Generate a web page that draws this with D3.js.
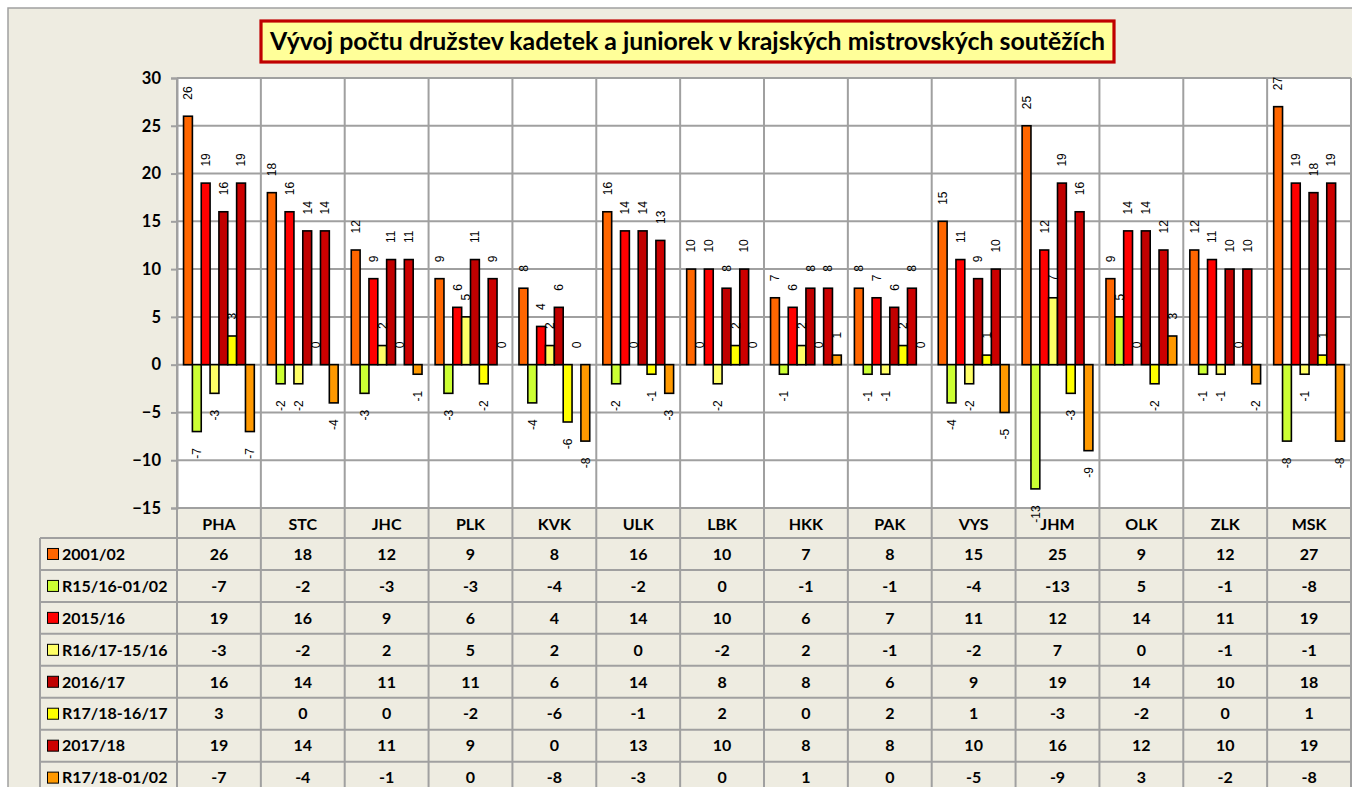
<!DOCTYPE html>
<html><head><meta charset="utf-8">
<script src="https://cdn.jsdelivr.net/npm/d3@7"></script>
<style>
html,body{margin:0;padding:0;background:#fff;}
svg{display:block;}
</style></head>
<body>
<svg id="c" width="1352" height="787"></svg>
<script>
const titleText = "Vývoj počtu družstev kadetek a juniorek v krajských mistrovských soutěžích";
const categories = ["PHA","STC","JHC","PLK","KVK","ULK","LBK","HKK","PAK","VYS","JHM","OLK","ZLK","MSK"];
const seriesNames = ["2001/02","R15/16-01/02","2015/16","R16/17-15/16","2016/17","R17/18-16/17","2017/18","R17/18-01/02"];
const seriesColors = ["#FF6600","#CCFF33","#FF0000","#FFFF66","#C00000","#FFFF00","#CC0000","#FF9900"];
const v2001 = [26,18,12,9,8,16,10,7,8,15,25,9,12,27];
const vR1516 = [-7,-2,-3,-3,-4,-2,0,-1,-1,-4,-13,5,-1,-8];
const v2015 = [19,16,9,6,4,14,10,6,7,11,12,14,11,19];
const vR1617 = [-3,-2,2,5,2,0,-2,2,-1,-2,7,0,-1,-1];
const v2016 = [16,14,11,11,6,14,8,8,6,9,19,14,10,18];
const vR1718 = [3,0,0,-2,-6,-1,2,0,2,1,-3,-2,0,1];
const v2017 = [19,14,11,9,0,13,10,8,8,10,16,12,10,19];
const vR1718b = [-7,-4,-1,0,-8,-3,0,1,0,-5,-9,3,-2,-8];
const yTicks = [-15,-10,-5,0,5,10,15,20,25,30];

const seriesValues = [v2001,vR1516,v2015,vR1617,v2016,vR1718,v2017,vR1718b];
const series = seriesNames.map((n,i)=>({name:n,color:seriesColors[i],values:seriesValues[i]}));

const W=1352,H=787;
const svg=d3.select("#c");
const BG="#EEECE1", GRID="#A0A0A0";
const plotL=177, plotR=1351, plotT=78, plotB=508;
const rowT=538, rowH=31.95, tableL=40;

svg.append("rect").attr("width",W).attr("height",H).attr("fill","#fff");
svg.append("rect").attr("x",8).attr("y",8).attr("width",W+20).attr("height",H+20)
  .attr("fill",BG).attr("stroke",GRID).attr("stroke-width",1.5);

// title
const tb=svg.append("g");
tb.append("rect").attr("x",261).attr("y",21).attr("width",853).attr("height",41)
  .attr("fill","#FFFF99").attr("stroke","#C00000").attr("stroke-width",3.2);
const tt=tb.append("text").attr("x",687.5).attr("y",41.5).attr("text-anchor","middle")
  .attr("dy","0.36em").attr("font-family","Lato").attr("font-weight","bold")
  .attr("font-size",22).attr("fill","#000").text(titleText);
const tl=tt.node().getComputedTextLength();
tt.attr("font-size",22*835/tl);

// scales
const x=d3.scaleBand().domain(categories).range([plotL,plotR]).paddingInner(0).paddingOuter(0);
const x1=d3.scaleBand().domain(seriesNames).range([0,x.bandwidth()]).paddingInner(0).paddingOuter(0.74);
const y=d3.scaleLinear().domain([-15,30]).range([plotB,plotT]);

svg.append("rect").attr("x",plotL).attr("y",plotT).attr("width",plotR-plotL).attr("height",plotB-plotT).attr("fill","#fff");

// grid
const g=svg.append("g");
g.selectAll("line.h").data(yTicks).join("line").attr("class","h")
  .attr("x1",plotL).attr("x2",plotR).attr("y1",d=>y(d)).attr("y2",d=>y(d))
  .attr("stroke",GRID).attr("stroke-width",2);
const bounds=categories.map(c=>x(c)).concat([plotR]);
g.selectAll("line.v").data(bounds).join("line").attr("class","v")
  .attr("x1",d=>d).attr("x2",d=>d).attr("y1",plotT).attr("y2",H)
  .attr("stroke",GRID).attr("stroke-width",2);

// axis
const ax=svg.append("g").attr("transform",`translate(${plotL},0)`)
  .call(d3.axisLeft(y).tickValues(yTicks).tickSize(6).tickPadding(10).tickFormat(d3.format("d")));
ax.select(".domain").attr("stroke",GRID).attr("stroke-width",2);
ax.selectAll(".tick line").attr("stroke",GRID).attr("stroke-width",2);
ax.selectAll(".tick text").attr("font-family","Lato").attr("font-weight","bold")
  .attr("font-size",16.5).attr("fill","#000");

// bars
const bars=svg.append("g");
series.forEach(s=>{
  bars.selectAll(null).data(s.values.map((v,i)=>({v,c:categories[i]}))).join("rect")
    .attr("x",d=>x(d.c)+x1(s.name)).attr("width",x1.bandwidth())
    .attr("y",d=>y(Math.max(0,d.v))).attr("height",d=>Math.abs(y(d.v)-y(0)))
    .attr("fill",s.color).attr("stroke","#000").attr("stroke-width",1.6);
});

// table
const tg=svg.append("g");
d3.range(9).forEach(i=>{
  tg.append("line").attr("x1",tableL).attr("x2",plotR).attr("y1",rowT+i*rowH).attr("y2",rowT+i*rowH)
    .attr("stroke",GRID).attr("stroke-width",2);
});
tg.append("line").attr("x1",tableL).attr("x2",tableL).attr("y1",rowT).attr("y2",H).attr("stroke",GRID).attr("stroke-width",2);

tg.selectAll("text.cat").data(categories).join("text").attr("class","cat")
  .attr("x",d=>x(d)+x.bandwidth()/2).attr("y",(plotB+rowT)/2+1).attr("dy","0.36em")
  .attr("text-anchor","middle").attr("font-family","Lato").attr("font-weight","bold")
  .attr("font-size",16).attr("fill","#000").text(d=>d);

series.forEach((s,i)=>{
  const cy=rowT+i*rowH+rowH/2;
  tg.append("rect").attr("x",47.5).attr("y",cy-5.5).attr("width",11).attr("height",11)
    .attr("fill",s.color).attr("stroke","#000").attr("stroke-width",1);
  tg.append("text").attr("x",62).attr("y",cy).attr("dy","0.36em")
    .attr("font-family","Lato").attr("font-weight","bold").attr("font-size",16).attr("fill","#000").text(s.name);
  tg.selectAll(null).data(s.values.map((v,j)=>({v,c:categories[j]}))).join("text")
    .attr("x",d=>x(d.c)+x.bandwidth()/2).attr("y",cy).attr("dy","0.36em").attr("text-anchor","middle")
    .attr("font-family","Lato").attr("font-weight","bold").attr("font-size",16).attr("fill","#000")
    .text(d=>d.v);
});

// data labels
const lg=svg.append("g");
series.forEach(s=>{
  lg.selectAll(null).data(s.values.map((v,i)=>({v,c:categories[i]}))).join("text")
    .attr("transform",d=>{
      const cx=x(d.c)+x1(s.name)+x1.bandwidth()/2+4.3;
      const yy=d.v>=0? y(d.v)-16.5 : y(d.v)+16.5;
      return `translate(${cx},${yy}) rotate(-90)`;
    })
    .attr("text-anchor",d=>d.v>=0?"start":"end")
    .attr("font-family","Liberation Sans").attr("font-size",12).attr("fill","#000")
    .text(d=>d.v);
});
</script>
</body></html>
